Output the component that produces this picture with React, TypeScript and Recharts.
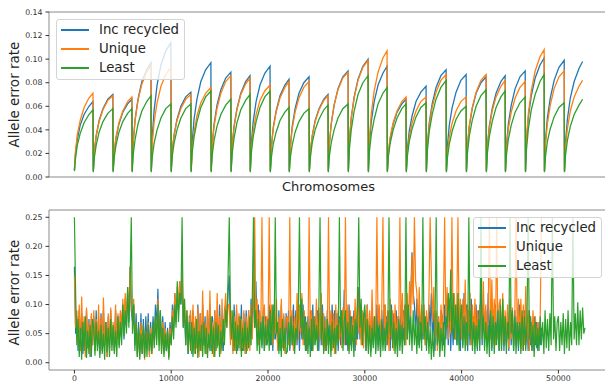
import React from 'react';
import { LineChart, Line, XAxis, YAxis, ReferenceLine, Legend } from 'recharts';

const FONT = '"DejaVu Sans", sans-serif';
const SPINE = '#8a8a8a';
const TICK = '#333333';
const seriesNames = ['Inc recycled', 'Unique', 'Least'];
const seriesColors = ['#1f77b4', '#ff7f0e', '#2ca02c'];

const topYTicks = [0, 0.02, 0.04, 0.06, 0.08, 0.1, 0.12, 0.14];
const bottomYTicks = [0, 0.05, 0.1, 0.15, 0.2, 0.25];
const bottomXTicks = [0, 10000, 20000, 30000, 40000, 50000];

// ---- Top panel: position along genome (one rise per chromosome) ----
const chromX = [
  0, 100, 300, 600, 1000, 1500, 1920,
  1950, 2050, 2250, 2550, 2950, 3450, 3970,
  4000, 4100, 4300, 4600, 5000, 5500, 5940,
  5970, 6070, 6270, 6570, 6970, 7470, 7910,
  7940, 8040, 8240, 8540, 8940, 9440, 9970,
  10000, 10100, 10300, 10600, 11000, 11500, 12030,
  12060, 12160, 12360, 12660, 13060, 13560, 14100,
  14130, 14230, 14430, 14730, 15130, 15630, 16160,
  16190, 16290, 16490, 16790, 17190, 17690, 18140,
  18170, 18270, 18470, 18770, 19170, 19670, 20210,
  20240, 20340, 20540, 20840, 21240, 21740, 22170,
  22200, 22300, 22500, 22800, 23200, 23700, 24240,
  24270, 24370, 24570, 24870, 25270, 25770, 26200,
  26230, 26330, 26530, 26830, 27230, 27730, 28270,
  28300, 28400, 28600, 28900, 29300, 29800, 30340,
  30370, 30470, 30670, 30970, 31370, 31870, 32300,
  32330, 32430, 32630, 32930, 33330, 33830, 34260,
  34290, 34390, 34590, 34890, 35290, 35790, 36330,
  36360, 36460, 36660, 36960, 37360, 37860, 38400,
  38430, 38530, 38730, 39030, 39430, 39930, 40470,
  40500, 40600, 40800, 41100, 41500, 42000, 42530,
  42560, 42660, 42860, 43160, 43560, 44060, 44500,
  44530, 44630, 44830, 45130, 45530, 46030, 46570,
  46600, 46700, 46900, 47200, 47600, 48100, 48530,
  48560, 48660, 48860, 49160, 49560, 50060, 50600,
  50630, 50730, 50930, 51230, 51630, 52130, 52500,
];

const incRecycled = [
  0.006, 0.019, 0.032, 0.044, 0.053, 0.060, 0.064,
  0.005, 0.021, 0.035, 0.048, 0.058, 0.066, 0.070,
  0.005, 0.020, 0.033, 0.045, 0.055, 0.062, 0.066,
  0.005, 0.029, 0.049, 0.066, 0.081, 0.091, 0.097,
  0.005, 0.034, 0.057, 0.078, 0.095, 0.107, 0.114,
  0.005, 0.022, 0.036, 0.049, 0.060, 0.068, 0.072,
  0.005, 0.029, 0.049, 0.066, 0.081, 0.091, 0.097,
  0.005, 0.027, 0.045, 0.061, 0.074, 0.084, 0.089,
  0.005, 0.026, 0.043, 0.058, 0.071, 0.081, 0.086,
  0.005, 0.028, 0.047, 0.064, 0.078, 0.088, 0.094,
  0.005, 0.025, 0.042, 0.056, 0.069, 0.078, 0.083,
  0.005, 0.026, 0.043, 0.058, 0.071, 0.080, 0.085,
  0.005, 0.021, 0.035, 0.048, 0.058, 0.066, 0.070,
  0.005, 0.027, 0.045, 0.061, 0.075, 0.085, 0.090,
  0.005, 0.030, 0.050, 0.068, 0.083, 0.094, 0.100,
  0.005, 0.028, 0.047, 0.064, 0.078, 0.088, 0.094,
  0.005, 0.020, 0.033, 0.045, 0.055, 0.062, 0.066,
  0.005, 0.023, 0.039, 0.052, 0.064, 0.072, 0.077,
  0.005, 0.027, 0.046, 0.062, 0.076, 0.086, 0.091,
  0.005, 0.026, 0.044, 0.059, 0.072, 0.082, 0.087,
  0.005, 0.026, 0.043, 0.058, 0.071, 0.080, 0.085,
  0.005, 0.026, 0.043, 0.058, 0.071, 0.081, 0.086,
  0.005, 0.027, 0.045, 0.061, 0.075, 0.085, 0.090,
  0.005, 0.030, 0.051, 0.069, 0.084, 0.095, 0.101,
  0.005, 0.030, 0.050, 0.067, 0.082, 0.093, 0.099,
  0.005, 0.029, 0.049, 0.067, 0.081, 0.092, 0.098,
];

const unique = [
  0.006, 0.021, 0.036, 0.048, 0.059, 0.067, 0.071,
  0.005, 0.021, 0.035, 0.047, 0.057, 0.065, 0.069,
  0.005, 0.020, 0.034, 0.046, 0.056, 0.064, 0.068,
  0.005, 0.029, 0.048, 0.065, 0.079, 0.089, 0.095,
  0.005, 0.028, 0.047, 0.063, 0.077, 0.087, 0.093,
  0.005, 0.021, 0.035, 0.048, 0.058, 0.066, 0.070,
  0.005, 0.023, 0.038, 0.052, 0.063, 0.071, 0.076,
  0.005, 0.026, 0.043, 0.058, 0.071, 0.081, 0.086,
  0.005, 0.025, 0.042, 0.057, 0.070, 0.079, 0.084,
  0.005, 0.023, 0.039, 0.053, 0.065, 0.073, 0.078,
  0.005, 0.024, 0.041, 0.055, 0.067, 0.076, 0.081,
  0.005, 0.024, 0.041, 0.055, 0.067, 0.076, 0.081,
  0.005, 0.021, 0.035, 0.047, 0.057, 0.065, 0.069,
  0.005, 0.027, 0.045, 0.061, 0.074, 0.084, 0.089,
  0.005, 0.030, 0.050, 0.067, 0.082, 0.093, 0.099,
  0.005, 0.032, 0.054, 0.073, 0.089, 0.101, 0.107,
  0.005, 0.020, 0.034, 0.046, 0.056, 0.064, 0.068,
  0.005, 0.020, 0.034, 0.046, 0.056, 0.064, 0.068,
  0.005, 0.026, 0.044, 0.059, 0.072, 0.082, 0.087,
  0.005, 0.020, 0.034, 0.046, 0.056, 0.064, 0.068,
  0.005, 0.026, 0.044, 0.059, 0.072, 0.082, 0.087,
  0.005, 0.025, 0.041, 0.056, 0.068, 0.077, 0.082,
  0.005, 0.024, 0.041, 0.055, 0.067, 0.076, 0.081,
  0.005, 0.032, 0.054, 0.073, 0.090, 0.102, 0.108,
  0.005, 0.027, 0.045, 0.061, 0.075, 0.085, 0.090,
  0.005, 0.025, 0.041, 0.056, 0.068, 0.077, 0.082,
];

const least = [
  0.005, 0.015, 0.027, 0.037, 0.046, 0.053, 0.057,
  0.004, 0.016, 0.027, 0.038, 0.047, 0.054, 0.058,
  0.004, 0.016, 0.027, 0.038, 0.047, 0.054, 0.058,
  0.004, 0.019, 0.032, 0.045, 0.056, 0.064, 0.069,
  0.004, 0.017, 0.029, 0.040, 0.050, 0.058, 0.062,
  0.004, 0.017, 0.029, 0.040, 0.050, 0.058, 0.062,
  0.004, 0.020, 0.034, 0.047, 0.059, 0.068, 0.073,
  0.004, 0.018, 0.031, 0.043, 0.053, 0.061, 0.066,
  0.004, 0.019, 0.033, 0.046, 0.057, 0.065, 0.070,
  0.004, 0.020, 0.034, 0.047, 0.059, 0.068, 0.073,
  0.004, 0.016, 0.028, 0.038, 0.048, 0.055, 0.059,
  0.004, 0.016, 0.027, 0.038, 0.047, 0.054, 0.058,
  0.004, 0.016, 0.029, 0.040, 0.049, 0.057, 0.061,
  0.004, 0.017, 0.029, 0.040, 0.050, 0.058, 0.062,
  0.004, 0.023, 0.040, 0.056, 0.070, 0.080, 0.086,
  0.004, 0.021, 0.036, 0.049, 0.062, 0.071, 0.076,
  0.004, 0.017, 0.029, 0.040, 0.050, 0.058, 0.062,
  0.004, 0.017, 0.030, 0.041, 0.051, 0.059, 0.063,
  0.004, 0.022, 0.039, 0.053, 0.066, 0.076, 0.082,
  0.004, 0.016, 0.028, 0.039, 0.049, 0.056, 0.060,
  0.004, 0.020, 0.035, 0.048, 0.060, 0.069, 0.074,
  0.004, 0.020, 0.034, 0.047, 0.059, 0.068, 0.073,
  0.004, 0.018, 0.032, 0.044, 0.055, 0.063, 0.068,
  0.004, 0.023, 0.041, 0.057, 0.070, 0.081, 0.087,
  0.004, 0.017, 0.030, 0.041, 0.051, 0.059, 0.063,
  0.004, 0.018, 0.031, 0.043, 0.053, 0.061, 0.066,
];

// ---- Bottom panel: windowed error rate in thousandths, one sample every 125 positions ----
const STEP = 125;
const incErrPermil = [
  165, 50, 80, 20, 90, 30, 85, 15, 70, 20, 90, 25, 75, 10, 80, 30,
  80, 20, 90, 30, 75, 15, 85, 20, 90, 30, 70, 10, 80, 25, 90, 30,
  60, 20, 90, 40, 80, 30, 85, 50, 100, 40, 110, 60, 120, 70, 165, 90,
  70, 100, 30, 85, 10, 70, 20, 85, 15, 75, 10, 80, 30, 85, 15, 70,
  20, 80, 40, 100, 60, 127, 40, 90, 30, 80, 20, 70, 20, 60, 10, 70,
  40, 100, 60, 120, 70, 110, 90, 140, 100, 140, 60, 90, 30, 80, 15, 80,
  80, 15, 90, 20, 70, 25, 100, 30, 85, 20, 100, 30, 80, 15, 90, 30,
  100, 20, 80, 30, 90, 20, 70, 30, 100, 25, 80, 20, 90, 100, 70, 120,
  150, 40, 80, 20, 100, 30, 90, 20, 80, 30, 100, 20, 85, 30, 90, 20,
  90, 30, 110, 50, 146, 60, 140, 60, 100, 40, 80, 30, 90, 20, 80, 30,
  40, 100, 30, 80, 20, 100, 40, 70, 30, 90, 20, 100, 30, 80, 25, 85,
  30, 90, 20, 80, 30, 100, 40, 90, 30, 80, 20, 90, 40, 100, 30, 80,
  20, 80, 30, 90, 20, 100, 30, 80, 40, 90, 20, 85, 30, 100, 20, 80,
  20, 90, 30, 80, 20, 100, 40, 90, 30, 85, 20, 80, 30, 90, 40, 126,
  30, 90, 20, 100, 30, 80, 40, 90, 20, 80, 40, 130, 40, 90, 30, 80,
  90, 20, 100, 30, 80, 20, 90, 30, 80, 20, 100, 30, 85, 20, 90, 30,
  100, 20, 80, 30, 90, 20, 100, 40, 85, 30, 90, 20, 80, 30, 100, 40,
  90, 30, 100, 40, 80, 50, 120, 190, 120, 100, 50, 110, 30, 100, 40, 90,
  40, 90, 30, 80, 40, 100, 60, 120, 30, 90, 20, 85, 30, 80, 20, 90,
  80, 30, 100, 40, 90, 30, 100, 20, 90, 30, 80, 40, 100, 30, 90, 20,
  90, 30, 120, 40, 100, 20, 90, 30, 110, 40, 80, 30, 100, 20, 90, 30,
  140, 30, 100, 40, 90, 30, 120, 30, 100, 20, 90, 30, 100, 40, 80, 20,
  90, 30, 100, 20, 80, 30, 90, 20, 100, 30, 85, 20, 90, 30, 80, 20,
  100, 30, 80, 20, 90, 30, 80, 20, 90, 30, 70, 20, 80, 30, 70, 20,
  70, 30, 60,
];

const uniqueErrPermil = [
  150, 60, 90, 30, 100, 20, 114, 40, 80, 10, 95, 25, 70, 15, 85, 30,
  90, 20, 75, 30, 100, 15, 80, 25, 112, 30, 70, 10, 85, 20, 95, 30,
  70, 20, 100, 40, 85, 30, 90, 60, 110, 50, 120, 70, 130, 80, 165, 100,
  80, 110, 40, 70, 15, 60, 10, 70, 20, 65, 5, 55, 25, 70, 10, 60,
  15, 60, 30, 80, 40, 110, 30, 80, 20, 70, 15, 60, 25, 55, 10, 60,
  30, 90, 60, 120, 70, 130, 90, 140, 110, 160, 70, 110, 40, 90, 20, 70,
  90, 20, 100, 15, 80, 25, 95, 10, 85, 20, 124, 30, 70, 15, 90, 25,
  124, 30, 70, 10, 90, 20, 120, 30, 80, 15, 110, 35, 80, 120, 60, 100,
  100, 30, 90, 15, 80, 20, 100, 30, 85, 20, 75, 25, 90, 15, 80, 20,
  90, 20, 100, 40, 120, 250, 60, 110, 30, 90, 40, 250, 60, 100, 30, 80,
  40, 250, 50, 100, 30, 90, 50, 110, 20, 80, 30, 110, 25, 85, 15, 75,
  80, 30, 250, 40, 90, 20, 80, 30, 120, 40, 100, 50, 120, 30, 90, 20,
  70, 30, 250, 40, 90, 20, 80, 35, 110, 30, 95, 40, 120, 30, 85, 20,
  75, 30, 250, 40, 90, 20, 85, 15, 100, 35, 90, 40, 80, 25, 95, 30,
  250, 40, 100, 20, 90, 25, 80, 40, 110, 30, 130, 50, 100, 30, 90, 25,
  80, 40, 100, 20, 90, 30, 126, 40, 80, 50, 250, 60, 100, 30, 90, 250,
  50, 100, 30, 90, 20, 110, 40, 90, 20, 100, 30, 80, 40, 250, 50, 120,
  40, 100, 30, 120, 60, 140, 80, 185, 100, 250, 140, 120, 50, 130, 40, 100,
  50, 100, 30, 90, 40, 110, 250, 150, 70, 130, 40, 90, 20, 80, 30, 100,
  40, 100, 250, 60, 130, 40, 110, 50, 250, 60, 120, 40, 90, 250, 50, 110,
  40, 110, 40, 143, 30, 100, 50, 120, 30, 100, 40, 110, 30, 90, 40, 100,
  90, 40, 140, 50, 100, 30, 90, 250, 40, 143, 50, 110, 30, 250, 40, 100,
  110, 20, 120, 40, 90, 30, 100, 25, 110, 40, 95, 30, 80, 250, 40, 110,
  40, 110, 20, 100, 30, 132, 40, 90, 20, 80, 30, 90, 20, 80, 30, 70,
  30, 80, 250,
];

const leastErrPermil = [
  250, 120, 30, 75, 10, 60, 5, 70, 20, 80, 8, 55, 15, 65, 10, 75,
  60, 12, 70, 20, 55, 8, 65, 15, 50, 5, 70, 18, 60, 10, 75, 20,
  65, 15, 55, 10, 80, 25, 70, 30, 100, 45, 90, 50, 130, 60, 140, 250,
  50, 100, 20, 70, 10, 60, 5, 50, 15, 65, 8, 55, 10, 65, 20, 50,
  15, 70, 25, 80, 30, 100, 20, 90, 15, 60, 10, 50, 20, 55, 5, 50,
  30, 80, 40, 100, 60, 140, 70, 120, 100, 250, 60, 110, 30, 90, 15, 70,
  20, 70, 10, 60, 15, 75, 8, 55, 20, 65, 10, 70, 15, 60, 8, 50,
  20, 80, 15, 60, 10, 70, 25, 65, 10, 55, 20, 75, 30, 90, 60, 150,
  250, 80, 40, 90, 20, 70, 15, 65, 25, 80, 10, 60, 20, 70, 15, 60,
  25, 80, 30, 110, 250, 60, 90, 20, 75, 15, 70, 25, 80, 20, 65, 30,
  75, 20, 90, 30, 100, 40, 250, 50, 70, 15, 60, 10, 75, 20, 60, 15,
  20, 70, 25, 80, 30, 65, 15, 60, 40, 90, 250, 60, 110, 40, 80, 20,
  70, 15, 60, 10, 75, 20, 80, 30, 65, 20, 90, 250, 40, 80, 15, 60,
  20, 75, 15, 65, 10, 70, 25, 60, 15, 65, 30, 250, 50, 90, 20, 70,
  90, 30, 70, 15, 80, 20, 65, 10, 75, 40, 100, 250, 60, 110, 30, 80,
  100, 20, 75, 15, 65, 10, 60, 25, 80, 15, 70, 20, 65, 10, 75, 20,
  60, 20, 70, 40, 250, 50, 90, 25, 70, 15, 60, 10, 75, 20, 65, 15,
  60, 30, 250, 40, 100, 30, 80, 20, 90, 30, 70, 15, 80, 25, 70, 20,
  250, 40, 80, 20, 70, 15, 60, 5, 55, 10, 60, 250, 30, 70, 10, 60,
  20, 70, 10, 80, 60, 120, 70, 160, 50, 120, 40, 100, 30, 120, 20, 80,
  100, 25, 80, 20, 70, 30, 250, 40, 90, 20, 70, 15, 65, 25, 75, 20,
  250, 40, 80, 20, 70, 15, 65, 10, 90, 25, 80, 15, 70, 30, 90, 20,
  100, 20, 110, 30, 80, 15, 70, 40, 250, 50, 90, 20, 80, 15, 70, 25,
  70, 15, 90, 25, 80, 20, 60, 250, 40, 80, 20, 65, 10, 70, 25, 60,
  20, 80, 30, 70, 15, 90, 25, 75, 20, 85, 30, 250, 40, 80, 20, 70,
  80, 20, 70, 30, 85, 15, 75, 25, 90, 20, 70, 30, 250, 40, 85, 30,
  104, 30, 90, 40, 95, 50, 60,
];

const topData = chromX.map((x, i) => ({ x, inc: incRecycled[i], uniq: unique[i], least: least[i] }));
const toSeries = (arr: number[]) => arr.map((v, i) => ({ x: i * STEP, v: v / 1000 }));
const incData = toSeries(incErrPermil);
const uniqueData = toSeries(uniqueErrPermil);
const leastData = toSeries(leastErrPermil);

const X_DOMAIN: [number, number] = [-2625, 55125];
const fmt2 = (v: number) => v.toFixed(2);

const LegendBox = () => {
  const rows = [10, 29, 48];
  return (
    <div
      style={{
        position: 'relative',
        width: 129,
        height: 61,
        boxSizing: 'border-box',
        border: '1px solid #d4d4d4',
        borderRadius: 3,
        background: 'rgba(255,255,255,0.8)',
        fontFamily: FONT,
      }}
    >
      {seriesNames.map((name, i) => (
        <div key={name} style={{ position: 'absolute', left: 0, top: rows[i] - 10, width: '100%', height: 20 }}>
          <div style={{ position: 'absolute', left: 4, top: 9, width: 28, height: 2, background: seriesColors[i] }} />
          <span
            style={{
              position: 'absolute',
              left: 42,
              top: 0,
              lineHeight: '20px',
              fontSize: 13.3,
              color: '#262626',
              whiteSpace: 'nowrap',
            }}
          >
            {name}
          </span>
        </div>
      ))}
    </div>
  );
};

const makeYLabel = (cy: number) => () => (
  <text
    x={13.5}
    y={cy}
    transform={`rotate(-90 13.5 ${cy})`}
    textAnchor="middle"
    dominantBaseline="central"
    fontSize={13.5}
    fill="#262626"
    fontFamily={FONT}
  >
    Allele error rate
  </text>
);

const XLabel = () => (
  <text x={328.5} y={186} textAnchor="middle" dominantBaseline="central" fontSize={13} fill="#262626" fontFamily={FONT}>
    Chromosomes
  </text>
);

const tickStyle = { fontSize: 7.8, fill: TICK, fontFamily: FONT };

export default function App() {
  const TopYLabel = makeYLabel(94.5);
  const BottomYLabel = makeYLabel(97.5);
  return (
    <div style={{ position: 'absolute', left: 0, top: 0, width: 605, height: 388, overflow: 'hidden', background: '#fff' }}>
      <div style={{ position: 'absolute', left: 0, top: 0 }}>
        <LineChart width={612} height={195} data={topData} margin={{ top: 12, right: 4, bottom: 0, left: 0 }}>
          <XAxis
            dataKey="x"
            type="number"
            domain={X_DOMAIN}
            allowDataOverflow
            tick={false}
            tickLine={false}
            height={18}
            axisLine={{ stroke: SPINE }}
            label={<XLabel />}
          />
          <YAxis
            type="number"
            domain={[0, 0.14]}
            ticks={topYTicks}
            tickFormatter={fmt2}
            width={49}
            tick={tickStyle}
            tickSize={3.5}
            tickMargin={3}
            tickLine={{ stroke: TICK }}
            axisLine={{ stroke: SPINE }}
            allowDataOverflow
            label={<TopYLabel />}
          />
          <ReferenceLine y={0.14} stroke={SPINE} />
          <Line dataKey="inc" name={seriesNames[0]} stroke={seriesColors[0]} strokeWidth={1.3} dot={false} isAnimationActive={false} />
          <Line dataKey="uniq" name={seriesNames[1]} stroke={seriesColors[1]} strokeWidth={1.3} dot={false} isAnimationActive={false} />
          <Line dataKey="least" name={seriesNames[2]} stroke={seriesColors[2]} strokeWidth={1.3} dot={false} isAnimationActive={false} />
          <Legend
            layout="vertical"
            align="center"
            verticalAlign="middle"
            content={<LegendBox />}
            wrapperStyle={{ left: 56, top: 19, width: 'auto', height: 'auto' }}
          />
        </LineChart>
      </div>
      <div style={{ position: 'absolute', left: 0, top: 195 }}>
        <LineChart width={612} height={193} margin={{ top: 15, right: 4, bottom: 0, left: 0 }}>
          <XAxis
            dataKey="x"
            type="number"
            domain={X_DOMAIN}
            allowDataOverflow
            ticks={bottomXTicks}
            tick={tickStyle}
            tickSize={3.5}
            tickMargin={2}
            tickLine={{ stroke: TICK }}
            height={18}
            axisLine={{ stroke: SPINE }}
          />
          <YAxis
            type="number"
            domain={[-0.0125, 0.2625]}
            ticks={bottomYTicks}
            tickFormatter={fmt2}
            width={49}
            tick={tickStyle}
            tickSize={3.5}
            tickMargin={3}
            tickLine={{ stroke: TICK }}
            axisLine={{ stroke: SPINE }}
            allowDataOverflow
            label={<BottomYLabel />}
          />
          <ReferenceLine y={0.2625} stroke={SPINE} />
          <Line data={incData} dataKey="v" name={seriesNames[0]} stroke={seriesColors[0]} strokeWidth={1.2} dot={false} isAnimationActive={false} />
          <Line data={uniqueData} dataKey="v" name={seriesNames[1]} stroke={seriesColors[1]} strokeWidth={1.2} dot={false} isAnimationActive={false} />
          <Line data={leastData} dataKey="v" name={seriesNames[2]} stroke={seriesColors[2]} strokeWidth={1.2} dot={false} isAnimationActive={false} />
          <Legend
            layout="vertical"
            align="center"
            verticalAlign="middle"
            content={<LegendBox />}
            wrapperStyle={{ left: 473, top: 22, width: 'auto', height: 'auto' }}
          />
        </LineChart>
      </div>
    </div>
  );
}
